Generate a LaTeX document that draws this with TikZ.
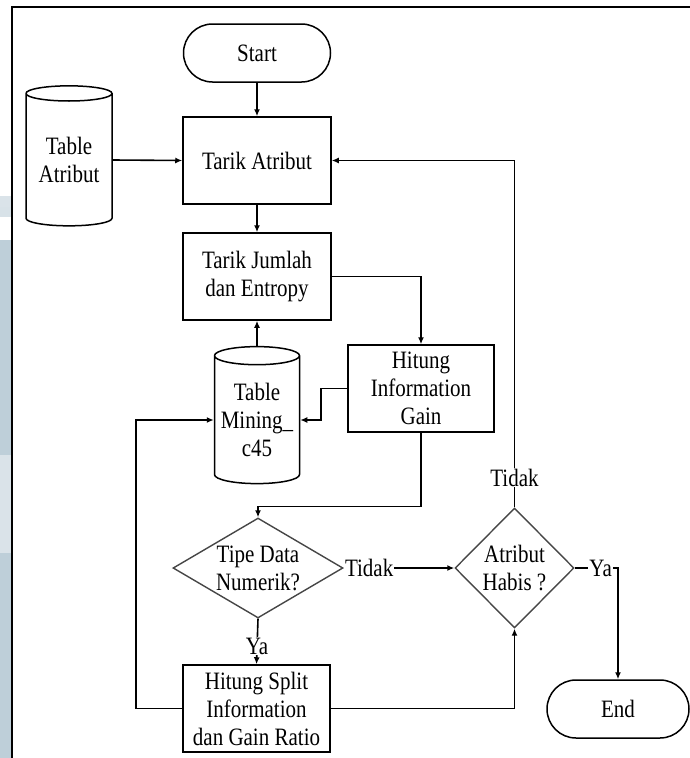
\documentclass[tikz,border=0pt]{standalone}
\usepackage{fontspec}
\setmainfont{Liberation Serif}[FakeStretch=0.84]
\usetikzlibrary{shapes.geometric,arrows.meta}
\definecolor{strip}{RGB}{190,207,217}
\definecolor{striplight}{RGB}{218,227,233}
\definecolor{edge}{RGB}{70,70,70}
\tikzset{
  box/.style={draw, line width=1.5pt, minimum width=148pt, minimum height=87pt, align=center, inner sep=2pt},
  term/.style={draw, line width=1.5pt, rounded corners=29pt, minimum width=147pt, minimum height=58pt},
  db/.style={cylinder, shape border rotate=90, aspect=0.25, draw, line width=1.5pt, align=center, inner sep=0pt},
  decision/.style={diamond, draw=edge, line width=1.4pt, inner sep=0pt},
  arr/.style={-{Latex[length=7pt,width=6pt]}, line width=1.6pt},
  lbl/.style={fill=white, inner sep=1pt},
}
\begin{document}
\begin{tikzpicture}[x=1pt, y=-1pt, font=\fontsize{25}{28}\selectfont]
\useasboundingbox (0,0) rectangle (690,758);
% strip and frame
\fill[striplight] (0,196) rectangle (11,207);
\fill[strip!60] (0,207) rectangle (11,217);
\fill[strip] (0,240) rectangle (11,455);
\fill[striplight] (0,455) rectangle (11,553);
\fill[strip] (0,553) rectangle (11,758);
\draw[line width=1.8pt] (12,758) -- (12,7) -- (690,7);
% nodes
\node[term] (start) at (257,53) {Start};
\node[box] (tarik) at (257,160.5) {Tarik Atribut};
\node[db, minimum width=86pt, minimum height=140pt] (tabatr) at (69,160) {Table\\Atribut};
\node[box] (jumlah) at (257,276.5) {Tarik Jumlah\\dan Entropy};
\node[box, minimum width=146pt] (hitung) at (421,388.5) {Hitung\\Information\\Gain};
\node[db, minimum width=85pt, minimum height=137pt] (mining) at (257,420) {Table\\Mining\_\\c45};
\node[decision, minimum width=170pt, minimum height=100pt,
  label={[align=center]center:{Tipe Data\\Numerik?}}] (tipe) at (258,568) {};
\node[decision, minimum width=119pt, minimum height=120pt,
  label={[align=center]center:{Atribut\\Habis ?}}] (habis) at (514.5,568) {};
\node[box, minimum width=147pt] (split) at (256.5,708.5) {Hitung Split\\Information\\dan Gain Ratio};
\node[term, minimum width=142pt] (end) at (618,709) {End};
% connectors
\draw[arr] (start) -- (start |- tarik.north);
\draw[arr] (tabatr.east) -- (tarik.west);
\draw[arr] (tarik) -- (jumlah);
\draw[arr] (jumlah.east) -| (hitung.north);
\draw[arr] (mining.north) -- (mining.north |- jumlah.south);
\draw[arr] (hitung.west) -- ++(-26,0) |- (mining.east);
\draw[arr] (split.west) -- ++(-46,0) |- (mining.west);
\draw[arr] (hitung.south) |- ([yshift=11pt]tipe.north) -- (tipe.north);
\draw[arr] (tipe.east) -- node[lbl, pos=0.23] {Tidak} (habis.west);
\draw[arr] (habis.north) |- node[lbl, pos=0.043] {Tidak} (tarik.east);
\draw[arr] (habis.east) -| node[lbl, pos=0.3] {Ya} (end.north);
\draw[arr] (tipe.south) -- node[lbl, pos=0.6] {Ya} (split.north);
\draw[arr] (split.east) -| (habis.south);
\end{tikzpicture}
\end{document}
